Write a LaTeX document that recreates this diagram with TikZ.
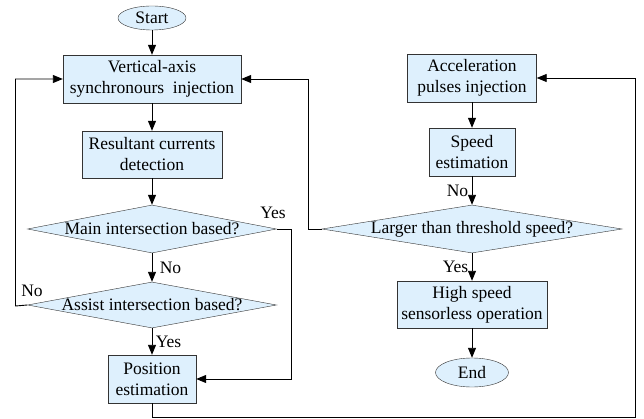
\documentclass[tikz,border=0pt]{standalone}
\usepackage{fontspec}
\setmainfont{LiberationSerif}[Extension=.ttf, UprightFont=*-Regular, BoldFont=*-Bold]
\usetikzlibrary{shapes.geometric, arrows.meta}

\definecolor{boxfill}{RGB}{222,240,253}

\begin{document}
\begin{tikzpicture}[x=1pt, y=-1pt,
    font=\fontsize{17.5}{21}\selectfont,
    process/.style={rectangle, draw=black!80, fill=boxfill, align=center, inner sep=0pt, minimum height=48pt},
    terminal/.style={ellipse, draw=black!80, fill=boxfill, inner sep=0pt},
    decision/.style={diamond, draw=black!80, fill=boxfill, inner sep=0pt, minimum height=48pt},
    line/.style={draw, line width=0.9pt, -{Triangle[length=10pt, width=8pt]}}]
    \useasboundingbox (0, 0) rectangle (644, 419);

    % left column
    \node[terminal, minimum width=68pt, minimum height=24pt] (start) at (152, 18) {Start};
    \node[process, minimum width=178pt] (vert) at (152, 79) {Vertical-axis\\synchronours~~injection};
    \node[process, minimum width=140pt, minimum height=47pt] (res) at (152, 154.5) {Resultant currents\\detection};
    \node[decision, minimum width=249pt, label=center:{Main intersection based?}] (main) at (152, 229) {};
    \node[decision, minimum width=249pt, minimum height=46pt, label=center:{Assist intersection based?}] (assist) at (152, 305) {};
    \node[process, minimum width=88pt] (pos) at (152, 379) {Position\\estimation};

    % right column
    \node[process, minimum width=129pt] (acc) at (472, 78) {Acceleration\\pulses injection};
    \node[process, minimum width=86pt] (speed) at (472, 152) {Speed\\estimation};
    \node[decision, minimum width=300pt, label=center:{Larger than threshold speed?}] (larger) at (472, 229) {};
    \node[process, minimum width=150pt, minimum height=47pt] (high) at (472, 304.5) {High speed\\sensorless operation};
    \node[terminal, minimum width=73pt, minimum height=29pt] (end) at (472, 372.5) {End};

    \coordinate (yesturn) at (291, 229);
    \coordinate (noturn) at (15.5, 306);
    \coordinate (backturn) at (308, 229);
    \coordinate (bottomturn) at (635, 417.5);

    \draw[line] (start) -- (vert);
    \draw[line] (vert) -- (res);
    \draw[line] (res) -- (main);
    \draw[line] (main) -- node[right, xshift=4pt]{No} (assist);
    \draw[line] (assist) -- node[right]{Yes} (pos);
    \draw[line] (main.east) -- (yesturn) |- (pos);
    \draw[line] (assist.west) -- (noturn) |- (vert);
    \node (yeslabel) at (273, 213) {Yes};
    \node (nolabel) at (32, 291) {No};

    \draw[line] (acc) -- (speed);
    \draw[line] (speed) -- node[left]{No} (larger);
    \draw[line] (larger) -- node[left]{Yes} (high);
    \draw[line] (high) -- (end);
    \draw[line] (larger.west) -- (backturn) |- (vert);
    \draw[line] (pos.south) |- (bottomturn) |- (acc);
\end{tikzpicture}
\end{document}
